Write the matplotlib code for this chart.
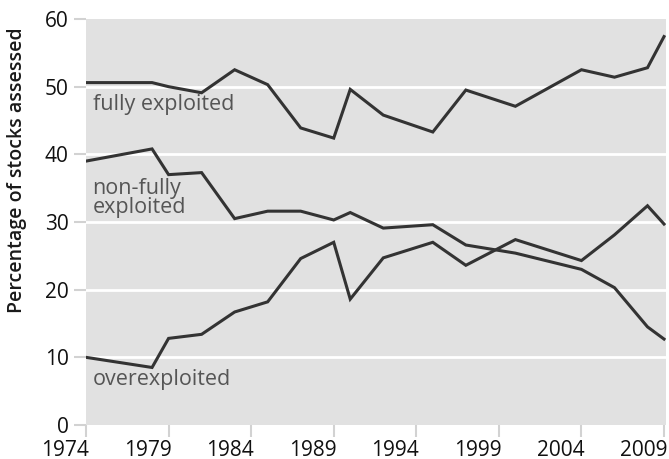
import matplotlib.pyplot as plt
from matplotlib.transforms import ScaledTranslation

plt.rcParams['font.family'] = ['Open Sans', 'DejaVu Sans']

years = [1974, 1978, 1979, 1981, 1983, 1985, 1987, 1989, 1990, 1992,
         1995, 1997, 2000, 2004, 2006, 2008, 2009]
fully = [50.6, 50.6, 50.0, 49.1, 52.5, 50.3, 43.9, 42.4, 49.6, 45.8,
         43.3, 49.5, 47.1, 52.5, 51.4, 52.8, 57.4]
non_fully = [39.0, 40.8, 37.0, 37.3, 30.5, 31.6, 31.6, 30.3, 31.4, 29.1,
             29.6, 26.6, 25.4, 23.0, 20.3, 14.5, 12.7]
over = [10.0, 8.5, 12.8, 13.4, 16.7, 18.2, 24.6, 27.0, 18.6, 24.7,
        27.0, 23.6, 27.4, 24.3, 28.1, 32.4, 29.7]

xticks = [1974, 1979, 1984, 1989, 1994, 1999, 2004, 2009]
yticks = [0, 10, 20, 30, 40, 50, 60]

fig = plt.figure(figsize=(6.69, 4.59), dpi=100)
ax = fig.add_axes([86 / 669, 1 - 425 / 459, 580 / 669, 406 / 459])
ax.set_facecolor('#e1e1e1')

for v in yticks[1:-1]:
    ax.axhline(v, color='white', lw=2.0, zorder=1)

lc = '#333333'
for series in (fully, non_fully, over):
    ax.plot(years, series, color=lc, lw=2.2, zorder=3, solid_joinstyle='miter')

tc = '#555555'
fs = 15.5
ax.text(1974.4, 46.5, 'fully exploited', fontsize=fs, color=tc, va='baseline')
ax.text(1974.4, 34.2, 'non-fully', fontsize=fs, color=tc, va='baseline')
ax.text(1974.4, 31.3, 'exploited', fontsize=fs, color=tc, va='baseline')
ax.text(1974.4, 5.9, 'overexploited', fontsize=fs, color=tc, va='baseline')

ax.set_xlim(1974, 2009.12)
ax.set_ylim(0, 60)
ax.set_xticks(xticks)
ax.set_yticks(yticks)
ax.tick_params(axis='both', length=8.5, width=1.5, color='#d2d2d2',
               labelsize=15, labelcolor='#111111')
ax.tick_params(axis='x', pad=2)
ax.tick_params(axis='y', pad=4)
for lab in ax.get_xticklabels():
    lab.set_ha('right')
    lab.set_transform(lab.get_transform() + ScaledTranslation(3 / 100, 0, fig.dpi_scale_trans))
for s in ax.spines.values():
    s.set_visible(False)

fig.text(17 / 669, 1 - 170 / 459, 'Percentage of stocks assessed', fontsize=14,
         fontweight='semibold', color='#1a1a1a', rotation=90, ha='center', va='center')

fig.savefig('out.png', dpi=100)
